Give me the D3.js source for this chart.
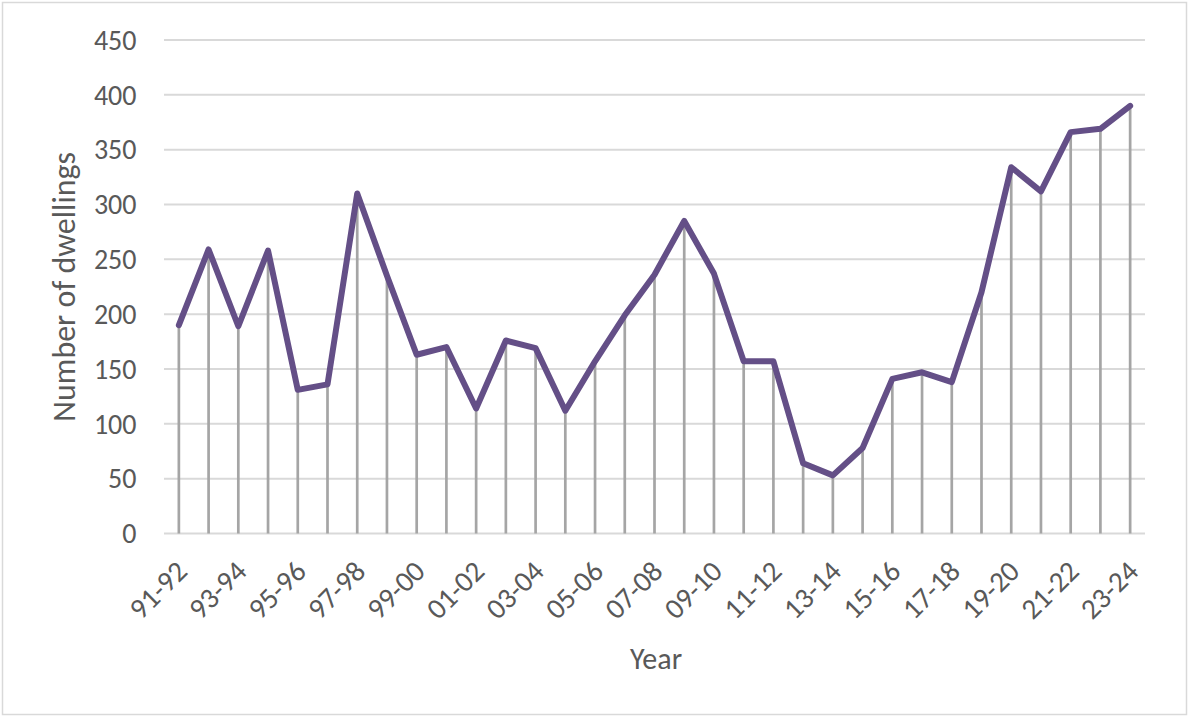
<!DOCTYPE html>
<html>
<head>
<meta charset="utf-8">
<script src="https://cdn.jsdelivr.net/npm/d3@7"></script>
<style>
  html, body { margin: 0; padding: 0; background: #fff; }
  svg { display: block; }
  text { font-family: Carlito, "Open Sans", "Liberation Sans", sans-serif; fill: #595959; }
</style>
</head>
<body>
<svg id="chart" width="1189" height="717"></svg>
<script>
const years = ["91-92","92-93","93-94","94-95","95-96","96-97","97-98","98-99","99-00","00-01",
  "01-02","02-03","03-04","04-05","05-06","06-07","07-08","08-09","09-10","10-11",
  "11-12","12-13","13-14","14-15","15-16","16-17","17-18","18-19","19-20","20-21",
  "21-22","22-23","23-24"];
const dwellings = [190, 259, 189, 258, 131, 136, 310, 235, 163, 170,
  114, 176, 169, 112, 157, 199, 236, 285, 237, 157,
  157, 64, 53, 78, 141, 147, 138, 220, 334, 312,
  366, 369, 390];
const yTicks = [0, 50, 100, 150, 200, 250, 300, 350, 400, 450];
const xLabelEvery = 2;
const yTitle = "Number of dwellings";
const xTitle = "Year";

const W = 1189, H = 717;
const plot = { left: 164, right: 1145, top: 40, bottom: 533.5 };

const svg = d3.select("#chart");

// chart border
svg.append("rect")
  .attr("x", 2.5).attr("y", 2.5).attr("width", W - 5).attr("height", H - 5)
  .attr("fill", "#fff").attr("stroke", "#d9d9d9").attr("stroke-width", 1.5);

const x = d3.scaleBand().domain(years).range([plot.left, plot.right]).padding(0);
const cx = d => x(d) + x.bandwidth() / 2;
const y = d3.scaleLinear().domain([0, 450]).range([plot.bottom, plot.top]);

// gridlines
svg.append("g").selectAll("line").data(yTicks).join("line")
  .attr("x1", plot.left).attr("x2", plot.right)
  .attr("y1", d => y(d)).attr("y2", d => y(d))
  .attr("stroke", "#d9d9d9").attr("stroke-width", 2);

// y tick labels
svg.append("g").selectAll("text").data(yTicks).join("text")
  .attr("x", 136.5).attr("y", d => y(d)).attr("dy", "0.35em")
  .attr("text-anchor", "end").attr("font-size", 28)
  .text(d => d);

const data = years.map((c, i) => ({ c, v: dwellings[i] }));

// drop lines
svg.append("g").selectAll("line").data(data).join("line")
  .attr("x1", d => cx(d.c)).attr("x2", d => cx(d.c))
  .attr("y1", y(0)).attr("y2", d => y(d.v))
  .attr("stroke", "#a5a5a5").attr("stroke-width", 2.7);

// main line
svg.append("path").datum(data)
  .attr("fill", "none").attr("stroke", "#644f87").attr("stroke-width", 6)
  .attr("stroke-linejoin", "round").attr("stroke-linecap", "round")
  .attr("d", d3.line().x(d => cx(d.c)).y(d => y(d.v)));

// x tick labels
svg.append("g").selectAll("text")
  .data(years.filter((d, i) => i % xLabelEvery === 0)).join("text")
  .attr("transform", d => `translate(${cx(d) + 10},${573}) rotate(-45)`)
  .attr("text-anchor", "end").attr("font-size", 29)
  .text(d => d);

// axis titles
svg.append("text")
  .attr("transform", `translate(75,${(plot.top + plot.bottom) / 2}) rotate(-90)`)
  .attr("text-anchor", "middle").attr("font-size", 32)
  .text(yTitle);

svg.append("text")
  .attr("x", 656).attr("y", 669)
  .attr("text-anchor", "middle").attr("font-size", 30)
  .text(xTitle);
</script>
</body>
</html>
